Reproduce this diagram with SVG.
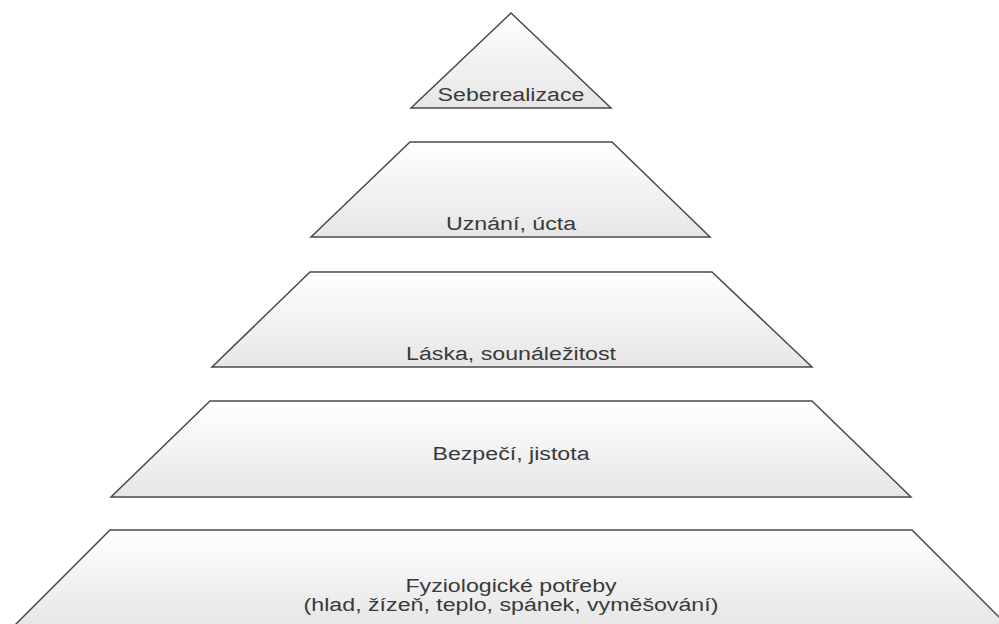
<svg xmlns="http://www.w3.org/2000/svg" width="999" height="624" viewBox="0 0 999 624">
  <defs>
    <linearGradient id="g" x1="0" y1="0" x2="0" y2="1">
      <stop offset="0" stop-color="#ffffff"/>
      <stop offset="1" stop-color="#e6e6e6"/>
    </linearGradient>
    <style>
      .lvl { fill: url(#g); stroke: #4a4a4a; stroke-width: 1.5; stroke-linejoin: miter; }
      .lbl { font-family: "Liberation Sans", Arial, sans-serif; font-size: 19px; fill: #3a3a3a; text-anchor: middle; }
    </style>
  </defs>
  <rect width="999" height="624" fill="#ffffff"/>
  <g id="level5">
    <polygon class="lvl" points="110,530 912,530 1008,626 14,626"/>
    <text class="lbl" transform="translate(511,592) scale(1.22,1)">Fyziologické potřeby</text>
    <text class="lbl" transform="translate(511,611) scale(1.22,1)">(hlad, žízeň, teplo, spánek, vyměšování)</text>
  </g>
  <g id="level4">
    <polygon class="lvl" points="210,401 812,401 911,497 111,497"/>
    <text class="lbl" transform="translate(511,460) scale(1.22,1)">Bezpečí, jistota</text>
  </g>
  <g id="level3">
    <polygon class="lvl" points="310,272 712,272 812,367 212,367"/>
    <text class="lbl" transform="translate(511,360) scale(1.22,1)">Láska, sounáležitost</text>
  </g>
  <g id="level2">
    <polygon class="lvl" points="410,142 612,142 710,237 311,237"/>
    <text class="lbl" transform="translate(511,230) scale(1.22,1)">Uznání, úcta</text>
  </g>
  <g id="level1">
    <polygon class="lvl" points="511,13 611,108 411,108"/>
    <text class="lbl" transform="translate(511,101) scale(1.22,1)">Seberealizace</text>
  </g>
  <g id="connectors"/>
</svg>
